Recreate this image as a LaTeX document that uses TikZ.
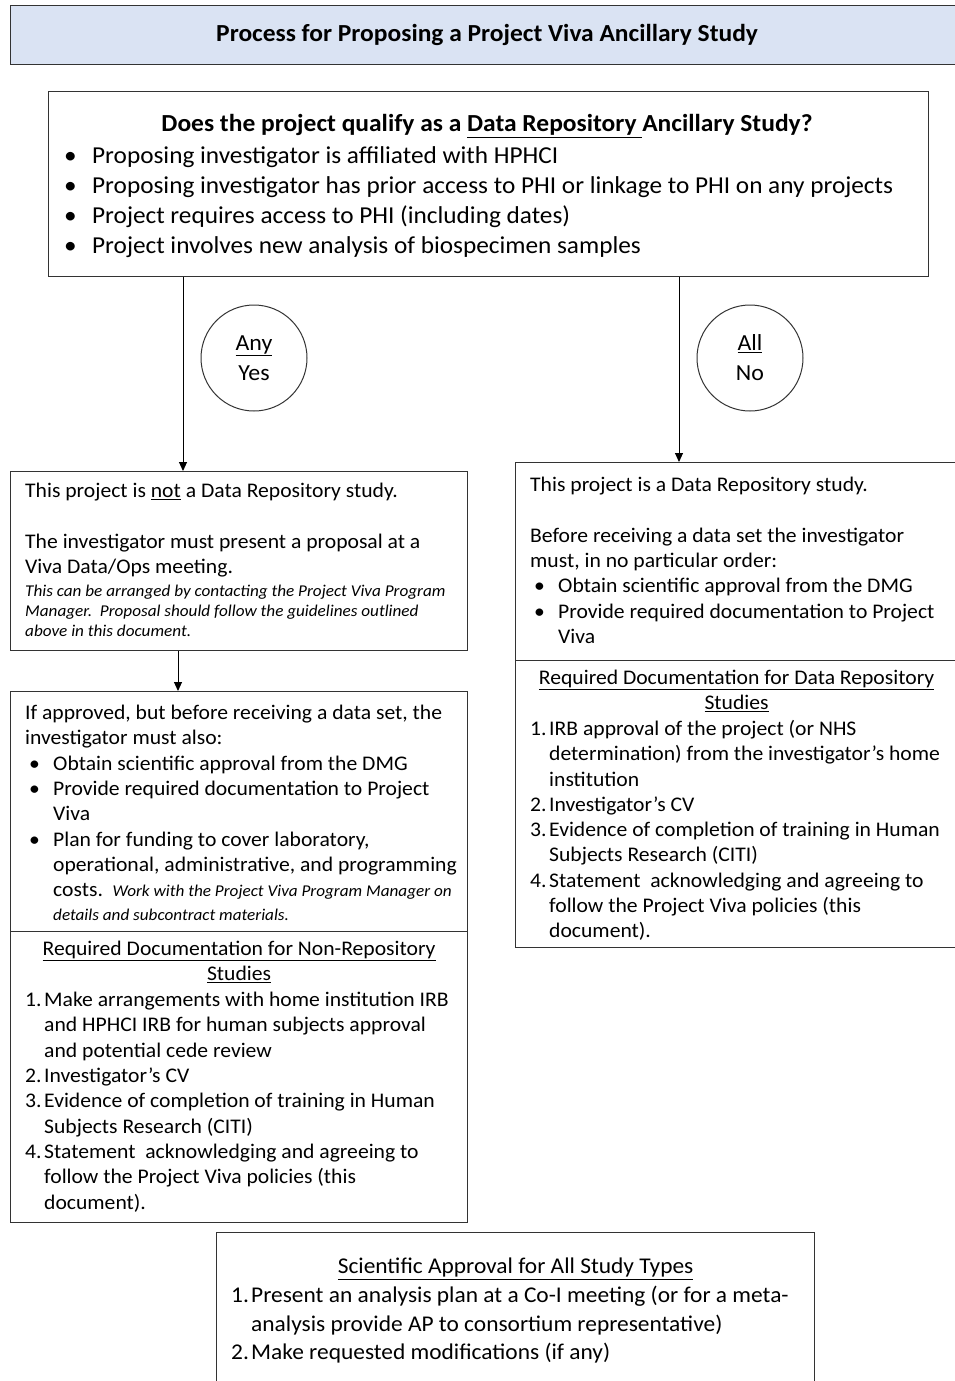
\documentclass[tikz,border=0pt]{standalone}
\usepackage{fontspec}
\setmainfont{Carlito}[FakeStretch=1.04]
\usetikzlibrary{arrows.meta,positioning}
\definecolor{titleblue}{RGB}{218,227,243}
\newcommand{\bul}[1][24pt]{\makebox[#1][l]{\textbullet}}
\newcommand{\itemno}[1]{\makebox[19pt][l]{#1}}
\begin{document}
\begin{tikzpicture}[x=1pt, y=-1pt,
    box/.style={rectangle, draw=black!80, line width=1.2pt, anchor=north west, inner sep=0pt},
    txt/.style={anchor=north west, inner sep=0pt, align=left, font=\fontsize{20.8}{25.3}\selectfont},
    small/.style={anchor=north west, inner sep=0pt, align=left, font=\fontsize{16.5}{20}\selectfont\itshape},
    ans/.style={circle, draw=black!80, line width=1pt, minimum size=106pt, inner sep=0pt, align=center, font=\fontsize{23}{30}\selectfont},
    arr/.style={-{Triangle[length=9pt,width=8pt]}, line width=1pt}]
    \useasboundingbox (0,0) rectangle (955,1381);

    % Title
    \node[box, fill=titleblue, minimum width=947pt, minimum height=59pt,
          font=\fontsize{24.5}{28}\selectfont\bfseries] (title) at (10,5)
          {\hspace*{6pt}Process for Proposing a Project Viva Ancillary Study};

    % Question box
    \node[box, minimum width=880pt, minimum height=185pt] (question) at (48,91) {};
    \node[font=\fontsize{24.5}{28}\selectfont\bfseries, inner sep=0pt] (qhead) at (487,126)
          {Does the project qualify as a \underline{Data Repository }Ancillary Study?};
    \node[txt, font=\fontsize{24.3}{30.3}\selectfont] (qlist) at (64,146)
          {\bul[28pt]Proposing investigator is affiliated with HPHCI\\
           \bul[28pt]Proposing investigator has prior access to PHI or linkage to PHI on any projects\\
           \bul[28pt]Project requires access to PHI (including dates)\\
           \bul[28pt]Project involves new analysis of biospecimen samples};

    % Answers
    \node[ans] (anyyes) at (254,358) {\underline{Any}\\Yes};
    \node[ans] (allno) at (750,358) {\underline{All}\\No};

    % Not a repository study
    \node[box, minimum width=457pt, minimum height=179pt] (notrepo) at (10,471) {};
    \node[txt] (notrepotxt) at ([xshift=15pt,yshift=-12pt]notrepo.north west)
          {This project is \underline{not} a Data Repository study.\\[25.3pt]
           The investigator must present a proposal at a\\
           Viva Data/Ops meeting.};
    \node[small] (notreponote) at ([xshift=15pt,yshift=-114pt]notrepo.north west)
          {This can be arranged by contacting the Project Viva Program\\
           Manager.\ \ Proposal should follow the guidelines outlined\\
           above in this document.};

    \node[box, minimum width=457pt, minimum height=240pt] (approved) at (10,691) {};
    \node[txt] (approvedtxt) at ([xshift=15pt,yshift=-14pt]approved.north west)
          {If approved, but before receiving a data set, the\\
           investigator must also:\\
           \hspace*{4pt}\bul Obtain scientific approval from the DMG\\
           \hspace*{4pt}\bul Provide required documentation to Project\\
           \hspace*{28pt}Viva\\
           \hspace*{4pt}\bul Plan for funding to cover laboratory,\\
           \hspace*{28pt}operational, administrative, and programming\\
           \hspace*{28pt}costs.\ \ {\fontsize{16.5}{20}\selectfont\itshape Work with the Project Viva Program Manager on}\\[-2pt]
           \hspace*{28pt}{\fontsize{16.5}{20}\selectfont\itshape details and subcontract materials.}};

    \node[box, minimum width=457pt, minimum height=291pt] (nonrepodocs) at (10,931) {};
    \node[txt, anchor=north, align=center] (nonrepohead) at ([yshift=-10pt]nonrepodocs.north)
          {\underline{Required Documentation for Non-Repository}\\\underline{Studies}};
    \node[txt] (nonrepolist) at ([xshift=15pt,yshift=-61pt]nonrepodocs.north west)
          {\itemno{1.}Make arrangements with home institution IRB\\
           \itemno{}and HPHCI IRB for human subjects approval\\
           \itemno{}and potential cede review\\
           \itemno{2.}Investigator’s CV\\
           \itemno{3.}Evidence of completion of training in Human\\
           \itemno{}Subjects Research (CITI)\\
           \itemno{4.}Statement\ \ acknowledging and agreeing to\\
           \itemno{}follow the Project Viva policies (this\\
           \itemno{}document).};

    % Repository study
    \node[box, minimum width=442pt, minimum height=198pt] (repo) at (515,462) {};
    \node[txt] (repotxt) at ([xshift=15pt,yshift=-15pt]repo.north west)
          {This project is a Data Repository study.\\[25.3pt]
           Before receiving a data set the investigator\\
           must, in no particular order:\\
           \hspace*{4pt}\bul Obtain scientific approval from the DMG\\
           \hspace*{4pt}\bul Provide required documentation to Project\\
           \hspace*{28pt}Viva};

    \node[box, minimum width=442pt, minimum height=287pt] (repodocs) at (515,660) {};
    \node[txt, anchor=north, align=center] (repohead) at ([yshift=-10pt]repodocs.north)
          {\underline{Required Documentation for Data Repository}\\\underline{Studies}};
    \node[txt] (repolist) at ([xshift=15pt,yshift=-60pt]repodocs.north west)
          {\itemno{1.}IRB approval of the project (or NHS\\
           \itemno{}determination) from the investigator’s home\\
           \itemno{}institution\\
           \itemno{2.}Investigator’s CV\\
           \itemno{3.}Evidence of completion of training in Human\\
           \itemno{}Subjects Research (CITI)\\
           \itemno{4.}Statement\ \ acknowledging and agreeing to\\
           \itemno{}follow the Project Viva policies (this\\
           \itemno{}document).};

    % Scientific approval
    \node[box, minimum width=598pt, minimum height=160pt] (sciapp) at (216,1232) {};
    \node[txt, anchor=north, font=\fontsize{22.5}{28.5}\selectfont] (sciapphead) at ([yshift=-26pt]sciapp.north)
          {\underline{Scientific Approval for All Study Types}};
    \node[txt, font=\fontsize{22.5}{28.5}\selectfont] (sciapplist) at ([xshift=15pt,yshift=-54pt]sciapp.north west)
          {\makebox[20pt][l]{1.}Present an analysis plan at a Co-I meeting (or for a meta-\\
           \makebox[20pt][l]{}analysis provide AP to consortium representative)\\
           \makebox[20pt][l]{2.}Make requested modifications (if any)};

    % Connections
    \coordinate (yesx) at (183,0);
    \coordinate (nox) at (679,0);
    \coordinate (nextx) at (178,0);
    \draw[arr] (question.south -| yesx) -- (yesx |- notrepo.north);
    \draw[arr] (question.south -| nox) -- (nox |- repo.north);
    \draw[arr] (notrepo.south -| nextx) -- (nextx |- approved.north);
\end{tikzpicture}
\end{document}
